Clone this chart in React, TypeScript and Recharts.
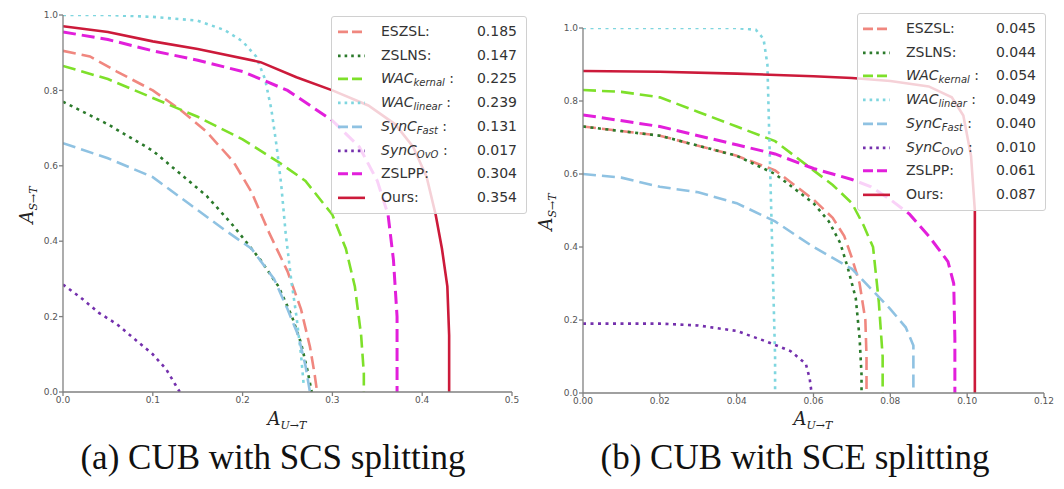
import React from "react";
import { LineChart, Line, XAxis, YAxis } from "recharts";

type Pt = { x: number; y: number };

// ---------- Legend / series metadata ----------
const seriesBase = ["ESZSL", "ZSLNS", "WAC", "WAC", "SynC", "SynC", "ZSLPP", "Ours"];
const seriesSub = ["", "", "kernal", "linear", "Fast", "OvO", "", ""];
const seriesColor = ["#f0877f", "#2b7a2b", "#7ee02a", "#7fd6df", "#8fc2e2", "#7430ad", "#e21fdb", "#cc1a3a"];
const seriesStyle = ["dash", "dot", "dash", "dot", "dash", "dot", "dash", "solid"];

const scoresA = ["0.185", "0.147", "0.225", "0.239", "0.131", "0.017", "0.304", "0.354"];
const scoresB = ["0.045", "0.044", "0.054", "0.049", "0.040", "0.010", "0.061", "0.087"];

// ---------- Ticks ----------
const xTicksA = [0, 0.1, 0.2, 0.3, 0.4, 0.5];
const xTicksB = [0, 0.02, 0.04, 0.06, 0.08, 0.1, 0.12];
const yTicks = [0, 0.2, 0.4, 0.6, 0.8, 1.0];

// ---------- (a) CUB with SCS splitting ----------
const eszslA: Pt[] = [
  { x: 0, y: 0.905 }, { x: 0.03, y: 0.89 }, { x: 0.06, y: 0.85 }, { x: 0.1, y: 0.8 },
  { x: 0.13, y: 0.75 }, { x: 0.16, y: 0.69 }, { x: 0.19, y: 0.61 }, { x: 0.21, y: 0.53 },
  { x: 0.23, y: 0.42 }, { x: 0.25, y: 0.32 }, { x: 0.265, y: 0.22 }, { x: 0.275, y: 0.12 },
  { x: 0.28, y: 0.05 }, { x: 0.283, y: 0 },
];
const zslnsA: Pt[] = [
  { x: 0, y: 0.77 }, { x: 0.05, y: 0.71 }, { x: 0.1, y: 0.64 }, { x: 0.13, y: 0.58 },
  { x: 0.16, y: 0.52 }, { x: 0.19, y: 0.44 }, { x: 0.22, y: 0.35 }, { x: 0.24, y: 0.28 },
  { x: 0.255, y: 0.2 }, { x: 0.265, y: 0.13 }, { x: 0.272, y: 0.06 }, { x: 0.277, y: 0 },
];
const wacKernalA: Pt[] = [
  { x: 0, y: 0.865 }, { x: 0.05, y: 0.83 }, { x: 0.1, y: 0.78 }, { x: 0.15, y: 0.73 },
  { x: 0.2, y: 0.67 }, { x: 0.24, y: 0.61 }, { x: 0.27, y: 0.56 }, { x: 0.3, y: 0.47 },
  { x: 0.315, y: 0.38 }, { x: 0.325, y: 0.28 }, { x: 0.332, y: 0.15 }, { x: 0.335, y: 0.05 },
  { x: 0.335, y: 0 },
];
const wacLinearA: Pt[] = [
  { x: 0, y: 1.0 }, { x: 0.05, y: 1.0 }, { x: 0.1, y: 0.995 }, { x: 0.15, y: 0.985 },
  { x: 0.18, y: 0.96 }, { x: 0.2, y: 0.93 }, { x: 0.215, y: 0.89 }, { x: 0.225, y: 0.83 },
  { x: 0.232, y: 0.75 }, { x: 0.238, y: 0.65 }, { x: 0.243, y: 0.55 }, { x: 0.248, y: 0.42 },
  { x: 0.254, y: 0.3 }, { x: 0.26, y: 0.2 }, { x: 0.265, y: 0.1 }, { x: 0.268, y: 0.02 },
];
const syncFastA: Pt[] = [
  { x: 0, y: 0.66 }, { x: 0.05, y: 0.62 }, { x: 0.1, y: 0.57 }, { x: 0.14, y: 0.5 },
  { x: 0.18, y: 0.43 }, { x: 0.21, y: 0.38 }, { x: 0.235, y: 0.3 }, { x: 0.25, y: 0.22 },
  { x: 0.262, y: 0.15 }, { x: 0.27, y: 0.07 }, { x: 0.275, y: 0 },
];
const syncOvoA: Pt[] = [
  { x: 0, y: 0.285 }, { x: 0.02, y: 0.25 }, { x: 0.04, y: 0.21 }, { x: 0.06, y: 0.18 },
  { x: 0.08, y: 0.14 }, { x: 0.1, y: 0.1 }, { x: 0.115, y: 0.06 }, { x: 0.125, y: 0.02 },
  { x: 0.13, y: 0 },
];
const zslppA: Pt[] = [
  { x: 0, y: 0.955 }, { x: 0.05, y: 0.935 }, { x: 0.1, y: 0.905 }, { x: 0.15, y: 0.88 },
  { x: 0.2, y: 0.85 }, { x: 0.25, y: 0.8 }, { x: 0.3, y: 0.72 }, { x: 0.33, y: 0.65 },
  { x: 0.35, y: 0.56 }, { x: 0.362, y: 0.47 }, { x: 0.368, y: 0.35 }, { x: 0.372, y: 0.2 },
  { x: 0.372, y: 0 },
];
const oursA: Pt[] = [
  { x: 0, y: 0.97 }, { x: 0.05, y: 0.955 }, { x: 0.1, y: 0.93 }, { x: 0.15, y: 0.91 },
  { x: 0.22, y: 0.875 }, { x: 0.26, y: 0.835 }, { x: 0.3, y: 0.8 }, { x: 0.34, y: 0.76 },
  { x: 0.37, y: 0.71 }, { x: 0.39, y: 0.65 }, { x: 0.405, y: 0.57 }, { x: 0.415, y: 0.47 },
  { x: 0.422, y: 0.38 }, { x: 0.428, y: 0.28 }, { x: 0.43, y: 0.15 }, { x: 0.43, y: 0 },
];

// ---------- (b) CUB with SCE splitting ----------
const eszslB: Pt[] = [
  { x: 0, y: 0.73 }, { x: 0.02, y: 0.705 }, { x: 0.04, y: 0.65 }, { x: 0.05, y: 0.61 },
  { x: 0.06, y: 0.53 }, { x: 0.065, y: 0.48 }, { x: 0.068, y: 0.43 }, { x: 0.07, y: 0.37 },
  { x: 0.072, y: 0.3 }, { x: 0.0735, y: 0.2 }, { x: 0.0738, y: 0.1 }, { x: 0.0738, y: 0 },
];
const zslnsB: Pt[] = [
  { x: 0, y: 0.73 }, { x: 0.02, y: 0.705 }, { x: 0.04, y: 0.65 }, { x: 0.05, y: 0.6 },
  { x: 0.06, y: 0.52 }, { x: 0.064, y: 0.47 }, { x: 0.067, y: 0.41 }, { x: 0.069, y: 0.34 },
  { x: 0.071, y: 0.26 }, { x: 0.072, y: 0.15 }, { x: 0.0725, y: 0.05 }, { x: 0.0725, y: 0 },
];
const wacKernalB: Pt[] = [
  { x: 0, y: 0.83 }, { x: 0.01, y: 0.825 }, { x: 0.02, y: 0.81 }, { x: 0.03, y: 0.77 },
  { x: 0.04, y: 0.73 }, { x: 0.05, y: 0.69 }, { x: 0.06, y: 0.61 }, { x: 0.065, y: 0.57 },
  { x: 0.07, y: 0.52 }, { x: 0.073, y: 0.46 }, { x: 0.0755, y: 0.4 }, { x: 0.077, y: 0.25 },
  { x: 0.078, y: 0.1 }, { x: 0.078, y: 0 },
];
const wacLinearB: Pt[] = [
  { x: 0, y: 1.0 }, { x: 0.02, y: 1.0 }, { x: 0.04, y: 1.0 }, { x: 0.045, y: 0.995 },
  { x: 0.047, y: 0.97 }, { x: 0.048, y: 0.9 }, { x: 0.0485, y: 0.7 }, { x: 0.049, y: 0.5 },
  { x: 0.0495, y: 0.3 }, { x: 0.05, y: 0.1 }, { x: 0.05, y: 0 },
];
const syncFastB: Pt[] = [
  { x: 0, y: 0.6 }, { x: 0.01, y: 0.59 }, { x: 0.02, y: 0.565 }, { x: 0.03, y: 0.55 },
  { x: 0.04, y: 0.52 }, { x: 0.05, y: 0.47 }, { x: 0.06, y: 0.4 }, { x: 0.065, y: 0.37 },
  { x: 0.07, y: 0.34 }, { x: 0.075, y: 0.285 }, { x: 0.08, y: 0.23 }, { x: 0.084, y: 0.18 },
  { x: 0.086, y: 0.13 }, { x: 0.086, y: 0.05 }, { x: 0.086, y: 0 },
];
const syncOvoB: Pt[] = [
  { x: 0, y: 0.19 }, { x: 0.02, y: 0.19 }, { x: 0.03, y: 0.185 }, { x: 0.04, y: 0.17 },
  { x: 0.048, y: 0.14 }, { x: 0.054, y: 0.115 }, { x: 0.058, y: 0.08 }, { x: 0.059, y: 0.04 },
  { x: 0.0595, y: 0 },
];
const zslppB: Pt[] = [
  { x: 0, y: 0.762 }, { x: 0.02, y: 0.73 }, { x: 0.04, y: 0.68 }, { x: 0.05, y: 0.655 },
  { x: 0.06, y: 0.615 }, { x: 0.07, y: 0.585 }, { x: 0.075, y: 0.565 }, { x: 0.08, y: 0.53 },
  { x: 0.085, y: 0.49 }, { x: 0.09, y: 0.43 }, { x: 0.095, y: 0.36 }, { x: 0.0965, y: 0.3 },
  { x: 0.0968, y: 0.15 }, { x: 0.0968, y: 0 },
];
const oursB: Pt[] = [
  { x: 0, y: 0.882 }, { x: 0.02, y: 0.88 }, { x: 0.04, y: 0.875 }, { x: 0.06, y: 0.868 },
  { x: 0.07, y: 0.863 }, { x: 0.08, y: 0.855 }, { x: 0.09, y: 0.84 }, { x: 0.096, y: 0.81 },
  { x: 0.099, y: 0.76 }, { x: 0.101, y: 0.65 }, { x: 0.102, y: 0.5 }, { x: 0.102, y: 0 },
];

const seriesA = [eszslA, zslnsA, wacKernalA, wacLinearA, syncFastA, syncOvoA, zslppA, oursA];
const seriesB = [eszslB, zslnsB, wacKernalB, wacLinearB, syncFastB, syncOvoB, zslppB, oursB];

const dashOf = (s: string) => (s === "dash" ? "13 6" : s === "dot" ? "3 4.5" : undefined);
const widthOf = (i: number) => (i === 6 ? 3 : 2.6);

const tickStyle = { fontSize: 9, fill: "#555", fontFamily: "DejaVu Sans" };
const axisColor = "#808080";

function Plot(props: {
  data: Pt[][];
  xTicks: number[];
  xMax: number;
  xDigits: number;
  width: number;
  height: number;
  margin: { top: number; right: number; bottom: number; left: number };
}) {
  const { data, xTicks, xMax, xDigits, width, height, margin } = props;
  return (
    <LineChart width={width} height={height} margin={margin}>
      <XAxis
        type="number"
        dataKey="x"
        domain={[0, xMax]}
        ticks={xTicks}
        allowDataOverflow
        tickFormatter={(v: number) => v.toFixed(xDigits)}
        tick={tickStyle}
        stroke={axisColor}
        strokeWidth={1.3}
        tickSize={4}
        tickMargin={1}
        height={30}
      />
      <YAxis
        type="number"
        dataKey="y"
        domain={[0, 1]}
        ticks={yTicks}
        allowDataOverflow
        tickFormatter={(v: number) => v.toFixed(1)}
        tick={tickStyle}
        stroke={axisColor}
        strokeWidth={1.3}
        tickSize={4}
        tickMargin={1}
        width={30}
      />
      {data.map((d, i) => (
        <Line
          key={i}
          data={d}
          dataKey="y"
          type="linear"
          stroke={seriesColor[i]}
          strokeWidth={widthOf(i)}
          strokeDasharray={dashOf(seriesStyle[i])}
          dot={false}
          activeDot={false}
          isAnimationActive={false}
        />
      ))}
    </LineChart>
  );
}

function SeriesLabel({ i }: { i: number }) {
  const italic = seriesSub[i] !== "";
  return (
    <span>
      <span style={{ fontStyle: italic ? "italic" : "normal" }}>{seriesBase[i]}</span>
      {italic ? (
        <span style={{ fontStyle: "italic", fontSize: 10, position: "relative", top: 3 }}>{seriesSub[i]}</span>
      ) : null}
      {italic ? " :" : ":"}
    </span>
  );
}

function LegendBox(props: {
  left: number;
  top: number;
  width: number;
  scores: string[];
  labelX: number;
  sampleX: number;
  valueRight: number;
}) {
  const { left, top, width, scores, labelX, sampleX, valueRight } = props;
  const rowH = 23.7;
  return (
    <div
      style={{
        position: "absolute",
        left,
        top,
        width,
        height: 4 + rowH * 8 + 4,
        background: "rgba(255,255,255,0.8)",
        border: "1px solid #d0d0d0",
        borderRadius: 3,
        boxSizing: "border-box",
        fontFamily: "DejaVu Sans",
        fontSize: 14,
        color: "#333",
      }}
    >
      {seriesBase.map((_, i) => (
        <div
          key={i}
          style={{ position: "absolute", left: 0, top: 3 + i * rowH, width: "100%", height: rowH, lineHeight: rowH + "px" }}
        >
          <svg style={{ position: "absolute", left: sampleX, top: 0 }} width={28} height={rowH}>
            <line
              x1={0}
              x2={27}
              y1={rowH / 2}
              y2={rowH / 2}
              stroke={seriesColor[i]}
              strokeWidth={widthOf(i)}
              strokeDasharray={seriesStyle[i] === "dash" ? "10 4" : seriesStyle[i] === "dot" ? "2.6 4" : undefined}
            />
          </svg>
          <div style={{ position: "absolute", left: labelX, top: 0, whiteSpace: "nowrap" }}>
            <SeriesLabel i={i} />
          </div>
          <div style={{ position: "absolute", right: width - valueRight, top: 0 }}>{scores[i]}</div>
        </div>
      ))}
    </div>
  );
}

function XTitle({ cx, top }: { cx: number; top: number }) {
  return (
    <div
      style={{
        position: "absolute",
        left: cx - 60,
        top,
        width: 120,
        textAlign: "center",
        fontFamily: "DejaVu Serif",
        color: "#222",
        whiteSpace: "nowrap",
      }}
    >
      <span style={{ fontStyle: "italic", fontSize: 18 }}>A</span>
      <span style={{ fontStyle: "italic", fontSize: 11, position: "relative", top: 4 }}>U→T</span>
    </div>
  );
}

function YTitle({ cx, cy }: { cx: number; cy: number }) {
  return (
    <div
      style={{
        position: "absolute",
        left: cx - 60,
        top: cy - 12,
        width: 120,
        height: 24,
        textAlign: "center",
        fontFamily: "DejaVu Serif",
        color: "#222",
        whiteSpace: "nowrap",
        transform: "rotate(-90deg)",
      }}
    >
      <span style={{ fontStyle: "italic", fontSize: 18 }}>A</span>
      <span style={{ fontStyle: "italic", fontSize: 11, position: "relative", top: 4 }}>S→T</span>
    </div>
  );
}

function Caption({ cx, text }: { cx: number; text: string }) {
  return (
    <div
      style={{
        position: "absolute",
        left: cx - 260,
        top: 440,
        width: 520,
        textAlign: "center",
        fontFamily: "Liberation Serif",
        fontSize: 35,
        lineHeight: "35px",
        color: "#111",
        whiteSpace: "nowrap",
      }}
    >
      {text}
    </div>
  );
}

export default function App() {
  return (
    <div style={{ position: "absolute", left: 0, top: 0, width: 1064, height: 489, background: "#fff", overflow: "hidden" }}>
      <div style={{ position: "absolute", left: 0, top: 0 }}>
        <Plot
          data={seriesA}
          xTicks={xTicksA}
          xMax={0.5}
          xDigits={1}
          width={530}
          height={440}
          margin={{ top: 15, right: 18, bottom: 18, left: 33 }}
        />
      </div>
      <div style={{ position: "absolute", left: 530, top: 0 }}>
        <Plot
          data={seriesB}
          xTicks={xTicksB}
          xMax={0.12}
          xDigits={2}
          width={534}
          height={440}
          margin={{ top: 28, right: 20, bottom: 17, left: 23 }}
        />
      </div>
      <LegendBox left={331} top={16} width={196} scores={scoresA} sampleX={6} labelX={49} valueRight={187} />
      <LegendBox left={857} top={13} width={189} scores={scoresB} sampleX={5} labelX={48} valueRight={180} />
      <XTitle cx={287} top={408} />
      <XTitle cx={813} top={408} />
      <YTitle cx={28} cy={205} />
      <YTitle cx={547} cy={212} />
      <Caption cx={273} text="(a) CUB with SCS splitting" />
      <Caption cx={795} text="(b) CUB with SCE splitting" />
    </div>
  );
}
